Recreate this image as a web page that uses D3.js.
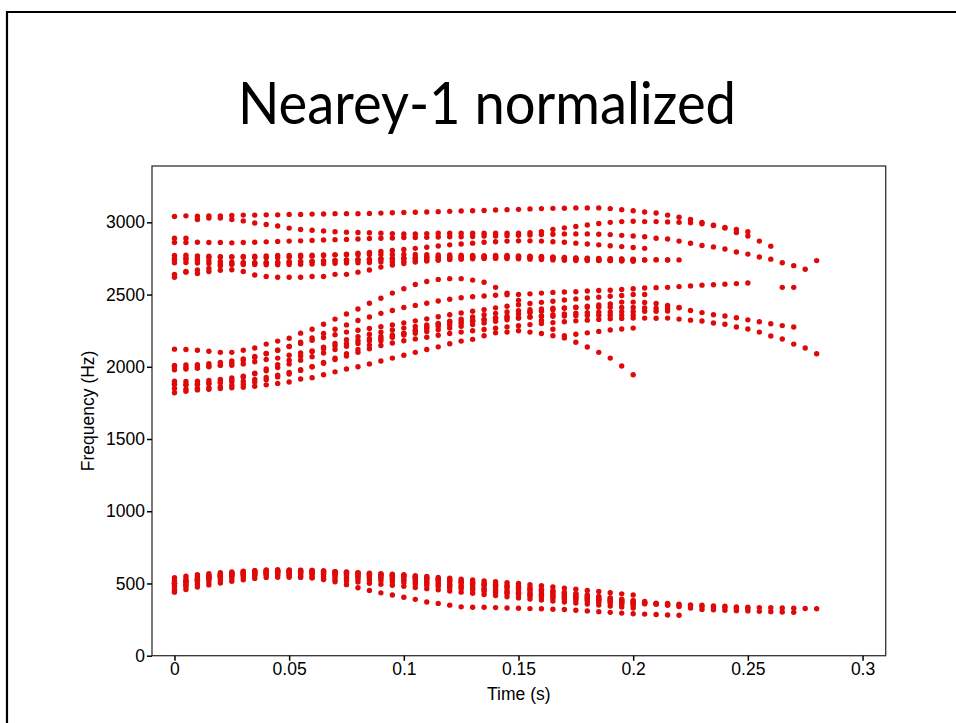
<!DOCTYPE html>
<html>
<head>
<meta charset="utf-8">
<script src="https://cdn.jsdelivr.net/npm/d3@7/dist/d3.min.js"></script>
<style>
  html, body { margin: 0; padding: 0; background: #fff; }
  svg { display: block; }
  .tick text { font-family: "Liberation Sans", Arial, Helvetica, sans-serif; font-size: 17.5px; fill: #000; }
</style>
</head>
<body>
<svg id="chart" width="956" height="723"></svg>
<script>
// Formant tracks sampled every 5 ms from vowel onset (Hz), one array per token and formant.
const frameStep = 0.005;

const tokA_F1 = [480,497,515,530,542,552,560,566,570,572,572,571,570,567,563,558,552,547,541,536,530,521,512,503,494,485,476,467,458,449,440,433,426,419,412,405,398,391,384,377,370,366,363,359,356,352,349,345,342,338,335,333,332,330,328,327,325];
const tokA_F2 = [1880,1878,1880,1884,1890,1895,1900,1912,1926,1942,1960,1980,2000,2025,2050,2075,2100,2125,2147,2165,2180,2193,2205,2218,2230,2240,2250,2258,2267,2276,2284,2292,2300,2306,2312,2318,2323,2328,2332,2335,2337,2337,2336,2337,2330,2323,2317,2303,2295,2275,2262,2240,2213,2192,2157,2130,2090];
const tokA_F3 = [2860,2860,2862,2860,2860,2858,2860,2862,2865,2868,2870,2872,2875,2878,2880,2882,2885,2888,2890,2892,2895,2895,2897,2898,2900,2900,2902,2905,2905,2908,2910,2912,2915,2918,2920,2920,2920,2918,2915,2910,2905,2900,2890,2885,2870,2855,2840,2830,2815,2795,2780,2760,2745,2720,2700,2675,2735];

const tokB_F1 = [520,532,545,555,563,570,575,578,580,582,584,585,585,582,578,574,569,564,559,555,550,542,534,526,518,510,502,494,486,478,470,461,452,443,434,425,416,407,398,389,380,370,360,350,340,330,320,318,315,312,310,307,305,302,300];
const tokB_F2 = [2000,1995,2000,2005,2010,2010,2020,2035,2050,2060,2080,2095,2110,2125,2145,2160,2180,2195,2210,2220,2230,2250,2265,2280,2290,2300,2315,2325,2340,2350,2365,2375,2385,2395,2405,2412,2420,2428,2435,2448,2448,2445,2438,2425,2410,2390,2375,2360,2352,2340,2325,2312,2298,2285,2275];
const tokB_F3 = [3040,3045,3042,3045,3045,3048,3050,3050,3052,3052,3055,3055,3057,3058,3060,3060,3060,3062,3064,3066,3068,3070,3072,3074,3076,3078,3080,3082,3085,3088,3090,3093,3095,3097,3098,3100,3100,3100,3095,3088,3080,3072,3065,3050,3035,3020,3000,2980,2960,2930,2905,2870,2835,2550,2550];

const tokC_F1 = [500,515,530,545,558,568,576,582,585,585,584,582,580,576,571,567,562,558,554,550,545,537,528,520,511,503,494,486,477,469,460,450,441,431,422,412,403,393,384,374,365,361,357,353,349,345,341,337,333,329,325];
const tokC_F2 = [1980,1985,1990,2000,2010,2025,2045,2065,2090,2115,2140,2170,2200,2230,2260,2290,2320,2345,2370,2390,2410,2425,2440,2455,2468,2478,2485,2490,2495,2498,2500,2505,2510,2515,2518,2520,2525,2528,2530,2535,2540,2545,2548,2550,2555,2560,2565,2568,2572,2576,2580];
const tokC_F3 = [2890,2890,3020,3030,3030,3020,3010,2995,2985,2975,2960,2950,2945,2940,2935,2932,2930,2928,2925,2922,2920,2920,2922,2925,2925,2925,2925,2925,2925,2925,2925,2928,2935,2950,2962,2972,2982,2992,3000,3005,3008,3005,3005,3003,3000,2998,2990,2978,2965,2950,2935];

const tokD_F1 = [450,490,520,540,550,555,558,560,560,558,555,550,540,528,512,492,470,452,435,420,405,390,372,362,350,338,335,335,333,330,328,326,325,322,320,315,310,305,300,295,290,288,285,282,280];
const tokD_F2 = [1850,1845,1850,1855,1860,1870,1880,1895,1910,1930,1950,1975,2000,2030,2060,2090,2120,2150,2180,2205,2230,2255,2275,2295,2315,2330,2345,2360,2370,2380,2388,2395,2400,2405,2408,2410,2412,2412,2412,2410,2410,2408,2406,2405,2408];
const tokD_F3 = [2740,2745,2740,2735,2730,2725,2722,2720,2720,2722,2725,2728,2730,2732,2735,2738,2740,2742,2745,2748,2750,2752,2755,2758,2760,2760,2758,2755,2752,2750,2748,2745,2742,2740,2738,2736,2735,2735,2736,2738,2740,2740,2742,2740,2740];

const tokE_F1 = [540,550,560,568,575,580,585,588,590,591,591,590,590,586,582,579,575,571,567,564,560,554,548,542,536,530,524,518,512,506,500,492,484,476,468,460,452,444,436,428,420];
const tokE_F2 = [2122,2120,2115,2108,2100,2100,2115,2130,2157,2178,2198,2233,2260,2295,2330,2365,2400,2440,2475,2510,2540,2570,2590,2605,2610,2610,2600,2585,2550,2510,2460,2380,2320,2260,2200,2170,2137,2100,2060,2005,1945];
const tokE_F3 = [2640,2660,2670,2660,2668,2672,2660,2635,2625,2620,2620,2620,2625,2625,2640,2640,2655,2670,2690,2705,2715,2725,2732,2738,2742,2745,2748,2750,2752,2754,2755,2754,2752,2750,2748,2745,2742,2740,2738,2738,2740];

const tokF_F1 = [440,458,475,490,503,515,526,535,542,543,543,542,540,532,525,517,510,502,495,487,480,472,464,456,448,440,432,424,416,408,400,393,386,379,372,365,358,351,344,337,330];
const tokF_F2 = [1820,1830,1840,1845,1850,1855,1858,1865,1875,1885,1895,1915,1925,1945,1965,1985,2000,2020,2040,2060,2080,2100,2120,2138,2160,2178,2190,2215,2235,2240,2250,2240,2230,2215,2215,2225,2235,2245,2255,2262,2268];
const tokF_F3 = [2620,2655,2645,2680,2700,2710,2715,2718,2720,2722,2725,2728,2730,2733,2736,2740,2742,2745,2748,2750,2752,2755,2758,2760,2762,2764,2766,2768,2770,2770,2768,2766,2763,2760,2757,2754,2752,2750,2748,2746,2745];

const tokG_F1 = [500,515,532,548,562,573,582,589,594,595,594,592,590,586,581,577,572,568,564,559,555,548,540,533,525,518,510,503,495,488,480,470,460,450,440,430,420,410,400,390,380,375];
const tokG_F2 = [2010,2012,2015,2022,2030,2040,2055,2072,2092,2115,2140,2162,2183,2203,2222,2240,2253,2265,2278,2290,2304,2318,2332,2346,2360,2372,2384,2396,2408,2419,2430,2438,2446,2454,2462,2470,2476,2482,2488,2494,2500,2500];
const tokG_F3 = [2770,2772,2768,2765,2762,2760,2758,2756,2755,2755,2758,2762,2766,2770,2775,2780,2786,2792,2798,2805,2812,2820,2828,2836,2844,2850,2856,2862,2866,2870,2872,2872,2870,2866,2862,2856,2850,2844,2838,2832,2826,2820];

const tokH_F1 = [460,478,495,510,523,535,545,553,560,561,560,558,555,549,543,536,530,524,518,511,505,497,488,480,471,463,454,446,437,429,420,413,406,399,392,385,378,371,364,357,350];
const tokH_F2 = [1880,1875,1878,1885,1895,1910,1930,1955,1985,2015,2045,2075,2105,2135,2162,2187,2208,2225,2240,2255,2268,2280,2290,2300,2308,2315,2322,2328,2333,2338,2342,2345,2348,2350,2352,2354,2355,2356,2357,2358,2358];
const tokH_F3 = [2720,2722,2718,2715,2712,2710,2708,2708,2706,2706,2708,2710,2712,2714,2716,2718,2720,2722,2725,2728,2730,2734,2738,2742,2746,2750,2754,2758,2760,2762,2762,2760,2758,2755,2750,2746,2742,2738,2735,2732,2730];

const tokI_F1 = [500,512,525,537,548,557,565,571,576,577,576,573,570,564,558,551,545,539,532,526,520,511,502,493,484,475,466,457,448,439,430,423,416,409,402,395,388,381,374,367,360,359,360,361];
const tokI_F2 = [1900,1898,1900,1905,1912,1922,1935,1952,1972,1995,2020,2045,2070,2095,2120,2142,2162,2180,2195,2208,2220,2232,2244,2256,2268,2280,2292,2304,2315,2326,2336,2345,2353,2360,2366,2371,2375,2378,2380,2382,2383,2384,2385,2386];
const tokI_F3 = [2750,2752,2755,2758,2760,2762,2764,2766,2768,2770,2770,2772,2772,2774,2775,2776,2776,2778,2778,2778,2778,2778,2776,2775,2774,2772,2770,2768,2766,2764,2762,2760,2758,2756,2754,2752,2750,2748,2746,2744,2742,2740,2740,2740];

const tracks = [
  tokA_F1, tokA_F2, tokA_F3,
  tokB_F1, tokB_F2, tokB_F3,
  tokC_F1, tokC_F2, tokC_F3,
  tokD_F1, tokD_F2, tokD_F3,
  tokE_F1, tokE_F2, tokE_F3,
  tokF_F1, tokF_F2, tokF_F3,
  tokG_F1, tokG_F2, tokG_F3,
  tokH_F1, tokH_F2, tokH_F3,
  tokI_F1, tokI_F2, tokI_F3
];

const xTicks = [0, 0.05, 0.1, 0.15, 0.2, 0.25, 0.3];
const xTickLabels = ["0", "0.05", "0.1", "0.15", "0.2", "0.25", "0.3"];
const yTicks = [0, 500, 1000, 1500, 2000, 2500, 3000];
const titleText = "Nearey-1 normalized";
const xLabel = "Time (s)";
const yLabel = "Frequency (Hz)";

// Flatten tracks into (time, frequency) points
const points = [];
tracks.forEach(track => {
  track.forEach((hz, i) => {
    if (hz != null) points.push({ t: i * frameStep, hz });
  });
});

const svg = d3.select("#chart");

// Slide frame
svg.append("path")
  .attr("d", "M7,730 L7,12 L960,12")
  .attr("fill", "none")
  .attr("stroke", "#000")
  .attr("stroke-width", 2.2);

// Slide title
svg.append("text")
  .attr("x", 238)
  .attr("y", 124)
  .attr("textLength", 498)
  .attr("lengthAdjust", "spacingAndGlyphs")
  .attr("font-family", "Lato, 'Open Sans', sans-serif")
  .attr("font-size", 58)
  .attr("fill", "#000")
  .text(titleText);

const plot = { left: 152, top: 166, right: 885.7, bottom: 655.7 };

const x = d3.scaleLinear().domain([-0.0098, 0.3101]).range([plot.left, plot.right]);
const y = d3.scaleLinear().domain([0, 3390]).range([plot.bottom, plot.top]);

// Plot box
svg.append("rect")
  .attr("x", plot.left)
  .attr("y", plot.top)
  .attr("width", plot.right - plot.left)
  .attr("height", plot.bottom - plot.top)
  .attr("fill", "#fff")
  .attr("stroke", "#333")
  .attr("stroke-width", 1.3);

// Axes
const xAxis = svg.append("g")
  .attr("transform", `translate(0,${plot.bottom})`)
  .call(d3.axisBottom(x).tickValues(xTicks).tickSize(5).tickPadding(2)
    .tickFormat((d, i) => xTickLabels[i]));
const yAxis = svg.append("g")
  .attr("transform", `translate(${plot.left},0)`)
  .call(d3.axisLeft(y).tickValues(yTicks).tickSize(5).tickPadding(2)
    .tickFormat(d3.format("d")));
[xAxis, yAxis].forEach(g => {
  g.select(".domain").remove();
  g.selectAll(".tick line").attr("stroke", "#000").attr("stroke-width", 1.5);
});

// Axis titles
svg.append("text")
  .attr("x", (plot.left + plot.right) / 2)
  .attr("y", 700)
  .attr("text-anchor", "middle")
  .attr("font-family", "Liberation Sans, Arial, sans-serif")
  .attr("font-size", 17.5)
  .text(xLabel);

svg.append("text")
  .attr("transform", `translate(94,${(plot.top + plot.bottom) / 2}) rotate(-90)`)
  .attr("text-anchor", "middle")
  .attr("font-family", "Liberation Sans, Arial, sans-serif")
  .attr("font-size", 17.5)
  .text(yLabel);

// Formant points
svg.append("g")
  .selectAll("circle")
  .data(points)
  .join("circle")
  .attr("cx", d => x(d.t))
  .attr("cy", d => y(d.hz))
  .attr("r", 2.7)
  .attr("fill", "#de0a0a");
</script>
</body>
</html>
